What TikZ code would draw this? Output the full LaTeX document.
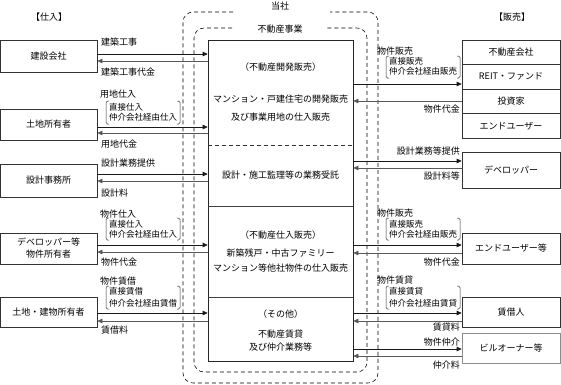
\documentclass[tikz,border=0pt]{standalone}
\usepackage{fontspec}
\setmainfont{Noto Sans CJK JP}
\usetikzlibrary{arrows.meta}
\newcommand{\mybrk}[4]{%
  \draw[brk] (#1+3,#3) -- (#1,#3) -- (#1,#4) -- (#1+3,#4);
  \draw[brk] (#2-3,#3) -- (#2,#3) -- (#2,#4) -- (#2-3,#4);}
\begin{document}
\begin{tikzpicture}[x=1pt,y=-1pt,
  every node/.style={font=\fontsize{9}{11}\selectfont, inner sep=0pt},
  lbox/.style={draw=black!80, line width=0.6pt, minimum width=97pt, align=center},
  rbox/.style={draw=black!80, line width=0.6pt, minimum width=98pt, align=center},
  sml/.style={font=\fontsize{8.5}{10}\selectfont},
  fwd/.style={draw=black!90, line width=0.6pt, -{Triangle[length=5pt,width=4.5pt]}},
  bwd/.style={draw=black!65, line width=0.6pt, -{Triangle[length=5pt,width=4.5pt]}},
  brk/.style={draw=black!80, line width=0.5pt, rounded corners=1.5pt},
  dsh/.style={draw=black, line width=0.55pt, dash pattern=on 4pt off 3pt, rounded corners=10pt}]
\useasboundingbox (0,0) rectangle (561,384);

% headings
\node (hdl) at (49,17) {【仕入】};
\node (hdr) at (512,17) {【販売】};

% dashed enclosures
\draw[dsh] (233,12) -- (183,12) -- (183,383) -- (378,383) -- (378,12) -- (330,12);
\draw[dsh] (232,28) -- (194,28) -- (194,372) -- (367,372) -- (367,28) -- (327,28);
\node (tosha) at (280,6.5) {当社};
\node (fudosan) at (280,29) {不動産事業};

% main box
\node[draw=black!85, line width=0.6pt, minimum width=145pt, minimum height=321pt] (main) at (280.5,200.5) {};
\draw[black!80, line width=0.5pt, dash pattern=on 4pt off 3pt] (main.west |- 0,145) -- (main.east |- 0,145);
\draw[black!75, line width=0.6pt] (main.west |- 0,206) -- (main.east |- 0,206);
\draw[black!75, line width=0.6pt] (main.west |- 0,297) -- (main.east |- 0,297);
\node (t1) at (280.5,67) {（不動産開発販売）};
\node (t2) at (280.5,99) {マンション・戸建住宅の開発販売};
\node (t3) at (280.5,117) {及び事業用地の仕入販売};
\node (t4) at (280.5,175) {設計・施工監理等の業務受託};
\node (t5) at (280.5,235) {（不動産仕入販売）};
\node (t6) at (280.5,253) {新築残戸・中古ファミリー};
\node (t7) at (280.5,268) {マンション等他社物件の仕入販売};
\node (t8) at (280.5,314) {（その他）};
\node (t9) at (280.5,334) {不動産賃貸};
\node (t10) at (280.5,347) {及び仲介業務等};

% left boxes
\node[lbox, minimum height=32pt] (kensetsu) at (48.5,56) {建設会社};
\node[lbox, minimum height=31pt] (tochi) at (48.5,124.5) {土地所有者};
\node[lbox, minimum height=33pt] (sekkei) at (48.5,180.5) {設計事務所};
\node[lbox, minimum height=31pt] (dev) at (48.5,248.5) {デベロッパー等\\[1pt]物件所有者};
\node[lbox, minimum height=30pt] (tatemono) at (48.5,312) {土地・建物所有者};

% right boxes
\node[rbox, minimum height=24.5pt] (r1) at (511,52.25) {不動産会社};
\node[rbox, minimum height=24.5pt] (r2) at (511,76.75) {REIT・ファンド};
\node[rbox, minimum height=24.5pt] (r3) at (511,101.25) {投資家};
\node[rbox, minimum height=24.5pt] (r4) at (511,125.75) {エンドユーザー};
\node[rbox, minimum height=36pt] (rdev) at (511,170) {デベロッパー};
\node[rbox, minimum height=31pt] (rend) at (511,248.5) {エンドユーザー等};
\node[rbox, minimum height=30pt] (rchin) at (511,312) {賃借人};
\node[rbox, draw=black!45, minimum height=30pt] (rbiru) at (511,348) {ビルオーナー等};

% left connectors
\draw[fwd] (kensetsu.east |- 0,54) -- (main.west |- 0,54);
\draw[bwd] (main.west |- 0,61) -- (kensetsu.east |- 0,61);
\node[anchor=west] (l1a) at (101,42) {建築工事};
\node[anchor=west] (l1b) at (101,72) {建築工事代金};

\draw[fwd] (tochi.east |- 0,127) -- (main.west |- 0,127);
\draw[bwd] (main.west |- 0,133) -- (tochi.east |- 0,133);
\node[anchor=west] (l2a) at (100,94) {用地仕入};
\node[anchor=west,sml] (l2b) at (109,107) {直接仕入};
\node[anchor=west,sml] (l2c) at (109,117.5) {仲介会社経由仕入};
\mybrk{106}{180}{101}{124}
\node[anchor=west] (l2d) at (101,144) {用地代金};

\draw[fwd] (sekkei.east |- 0,174) -- (main.west |- 0,174);
\draw[bwd] (main.west |- 0,181) -- (sekkei.east |- 0,181);
\node[anchor=west] (l3a) at (101,163) {設計業務提供};
\node[anchor=west] (l3b) at (101,193) {設計料};

\draw[fwd] (dev.east |- 0,245) -- (main.west |- 0,245);
\draw[bwd] (main.west |- 0,252) -- (dev.east |- 0,252);
\node[anchor=west] (l4a) at (100,214) {物件仕入};
\node[anchor=west,sml] (l4b) at (109,224) {直接仕入};
\node[anchor=west,sml] (l4c) at (109,234.5) {仲介会社経由仕入};
\mybrk{106}{180}{218}{240}
\node[anchor=west] (l4d) at (101,262) {物件代金};

\draw[fwd] (tatemono.east |- 0,313) -- (main.west |- 0,313);
\draw[bwd] (main.west |- 0,321) -- (tatemono.east |- 0,321);
\node[anchor=west] (l5a) at (100,281) {物件賃借};
\node[anchor=west,sml] (l5b) at (109,291) {直接賃借};
\node[anchor=west,sml] (l5c) at (109,303.5) {仲介会社経由賃借};
\mybrk{106}{180}{286}{309}
\node[anchor=west] (l5d) at (101,330) {賃借料};

% right connectors
\draw[fwd] (main.east |- 0,84) -- (r2.west |- 0,84);
\draw[bwd] (r3.west |- 0,101) -- (main.east |- 0,101);
\node[anchor=west] (r1a) at (377,51) {物件販売};
\node[anchor=west,sml] (r1b) at (389,61) {直接販売};
\node[anchor=west,sml] (r1c) at (389,71.5) {仲介会社経由販売};
\mybrk{386}{460}{56}{78}
\node[anchor=east] (r1d) at (460,109) {物件代金};

\draw[fwd] (main.east |- 0,161) -- (rdev.west |- 0,161);
\draw[bwd] (rdev.west |- 0,168) -- (main.east |- 0,168);
\node[anchor=east] (r2a) at (460,151) {設計業務等提供};
\node[anchor=east] (r2b) at (460,176) {設計料等};

\draw[fwd] (main.east |- 0,245) -- (rend.west |- 0,245);
\draw[bwd] (rend.west |- 0,253) -- (main.east |- 0,253);
\node[anchor=west] (r3a) at (377,213) {物件販売};
\node[anchor=west,sml] (r3b) at (389,224) {直接販売};
\node[anchor=west,sml] (r3c) at (389,234.5) {仲介会社経由販売};
\mybrk{386}{460}{218}{240}
\node[anchor=east] (r3d) at (460,262) {物件代金};

\draw[fwd] (main.east |- 0,313) -- (rchin.west |- 0,313);
\draw[bwd] (rchin.west |- 0,321) -- (main.east |- 0,321);
\node[anchor=west] (r4a) at (377,280) {物件賃貸};
\node[anchor=west,sml] (r4b) at (389,291) {直接賃貸};
\node[anchor=west,sml] (r4c) at (389,303.5) {仲介会社経由賃貸};
\mybrk{386}{460}{286}{309}
\node[anchor=east] (r4d) at (460,327) {賃貸料};

\draw[fwd] (main.east |- 0,349) -- (rbiru.west |- 0,349);
\draw[bwd] (rbiru.west |- 0,356) -- (main.east |- 0,356);
\node[anchor=east] (r5a) at (460,342) {物件仲介};
\node[anchor=east] (r5b) at (460,365) {仲介料};
\end{tikzpicture}
\end{document}
